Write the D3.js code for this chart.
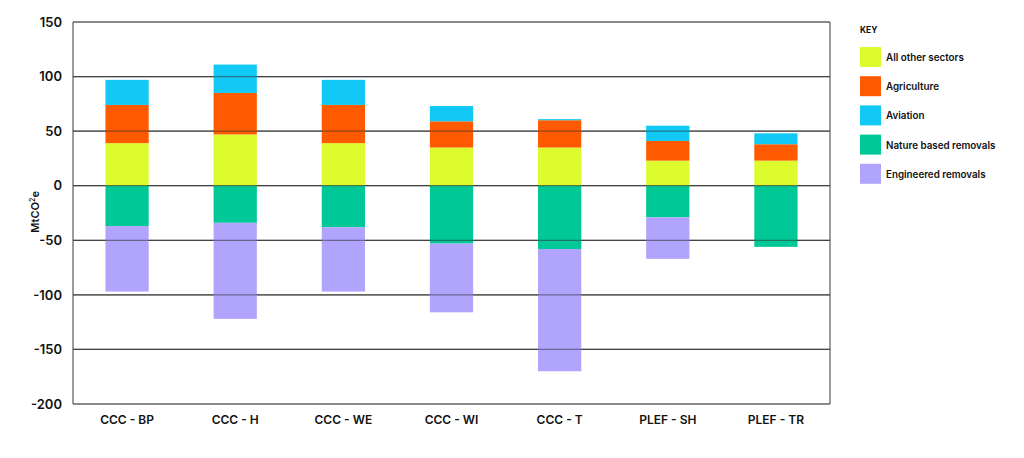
<!DOCTYPE html>
<html>
<head>
<meta charset="utf-8">
<script src="https://cdn.jsdelivr.net/npm/d3@7"></script>
<style>
  body { margin: 0; background: #fff; }
  svg { font-family: Inter, "Noto Sans", sans-serif; }
</style>
</head>
<body>
<div id="chart"></div>
<script>
// Data (MtCO2e)
const scenarios = ["CCC - BP", "CCC - H", "CCC - WE", "CCC - WI", "CCC - T", "PLEF - SH", "PLEF - TR"];
const allOther = [39, 47, 39, 35, 35, 23, 23];
const agriculture = [35, 38, 35, 24, 25, 18, 15];
const aviation = [23, 26, 23, 14, 1, 14, 10];
const natureRemovals = [-37, -34, -38, -53, -58, -29, -56];
const engineeredRemovals = [-60, -88, -59, -63, -112, -38, 0];
const yTicks = [150, 100, 50, 0, -50, -100, -150, -200];

const seriesNames = ["All other sectors", "Agriculture", "Aviation", "Nature based removals", "Engineered removals"];
const seriesColors = ["#dcfc2e", "#ff5a00", "#12c9f6", "#00c997", "#b1a4fd"];

const width = 1024, height = 458;
const margin = { top: 22, right: 194, bottom: 54, left: 73 };

const svg = d3.select("#chart").append("svg")
  .attr("width", width)
  .attr("height", height);

// build a table for d3.stack
const table = scenarios.map((s, i) => ({
  scenario: s,
  "All other sectors": allOther[i],
  "Agriculture": agriculture[i],
  "Aviation": aviation[i],
  "Nature based removals": natureRemovals[i],
  "Engineered removals": engineeredRemovals[i]
}));

const stacked = d3.stack()
  .keys(seriesNames)
  .offset(d3.stackOffsetDiverging)(table);

const x = d3.scaleBand()
  .domain(scenarios)
  .range([margin.left, width - margin.right])
  .paddingInner(0.6)
  .paddingOuter(0.3);

const y = d3.scaleLinear()
  .domain([-200, 150])
  .range([height - margin.bottom, margin.top]);

// gridlines
svg.append("g")
  .selectAll("line")
  .data(yTicks)
  .join("line")
  .attr("x1", margin.left)
  .attr("x2", width - margin.right)
  .attr("y1", d => y(d))
  .attr("y2", d => y(d))
  .attr("stroke", "#5a5a5a")
  .attr("stroke-width", 1.2);

// frame sides
svg.append("g")
  .selectAll("line")
  .data([margin.left, width - margin.right])
  .join("line")
  .attr("x1", d => d).attr("x2", d => d)
  .attr("y1", y(150)).attr("y2", y(-200))
  .attr("stroke", "#5a5a5a")
  .attr("stroke-width", 1.2);

// bars
svg.append("g")
  .selectAll("g")
  .data(stacked)
  .join("g")
  .attr("fill", (d, i) => seriesColors[i])
  .selectAll("rect")
  .data(d => d)
  .join("rect")
  .attr("x", d => x(d.data.scenario))
  .attr("width", x.bandwidth())
  .attr("y", d => y(Math.max(d[0], d[1])))
  .attr("height", d => Math.abs(y(d[0]) - y(d[1])));

// redraw the grid over the bars (lines show through in the reference)
svg.append("g")
  .selectAll("line")
  .data(yTicks)
  .join("line")
  .attr("x1", margin.left)
  .attr("x2", width - margin.right)
  .attr("y1", d => y(d))
  .attr("y2", d => y(d))
  .attr("stroke", "#333")
  .attr("stroke-opacity", 0.55)
  .attr("stroke-width", 1.2);

// y axis labels (plain hyphen for negatives, as in the reference)
const yAxis = d3.axisLeft(y).tickValues(yTicks).tickFormat(d => String(d)).tickSize(0).tickPadding(11);
svg.append("g")
  .attr("transform", `translate(${margin.left},0)`)
  .call(yAxis)
  .call(g => g.select(".domain").remove())
  .call(g => g.selectAll("text")
    .attr("font-size", 13)
    .attr("font-weight", 600)
    .attr("fill", "#111")
    .attr("font-family", "Inter, sans-serif"));

// x axis labels
const xAxis = d3.axisBottom(x).tickSize(0).tickPadding(11);
svg.append("g")
  .attr("transform", `translate(0,${y(-200)})`)
  .call(xAxis)
  .call(g => g.select(".domain").remove())
  .call(g => g.selectAll("text")
    .attr("font-size", 12)
    .attr("font-weight", 600)
    .attr("fill", "#111")
    .attr("font-family", "Inter, sans-serif"));

// y title
const yTitle = svg.append("text")
  .attr("transform", `translate(39,${y(-24)}) rotate(-90)`)
  .attr("text-anchor", "middle")
  .attr("font-size", 11)
  .attr("font-weight", 600)
  .attr("fill", "#111");
yTitle.append("tspan").text("MtCO");
yTitle.append("tspan").text("2").attr("font-size", 7).attr("dy", -4);
yTitle.append("tspan").text("e").attr("dy", 4);

// legend
const legend = svg.append("g").attr("transform", "translate(860,0)");
legend.append("text")
  .attr("x", 0).attr("y", 33)
  .attr("font-size", 8.5)
  .attr("font-weight", 700)
  .attr("fill", "#111")
  .text("KEY");

const item = legend.selectAll(".item")
  .data(seriesNames)
  .join("g")
  .attr("class", "item")
  .attr("transform", (d, i) => `translate(0,${47 + i * 29.2})`);

item.append("rect")
  .attr("width", 21).attr("height", 20)
  .attr("fill", (d, i) => seriesColors[i]);

item.append("text")
  .attr("x", 26).attr("y", 14)
  .attr("font-size", 9.8)
  .attr("font-weight", 600)
  .attr("fill", "#111")
  .text(d => d);
</script>
</body>
</html>
